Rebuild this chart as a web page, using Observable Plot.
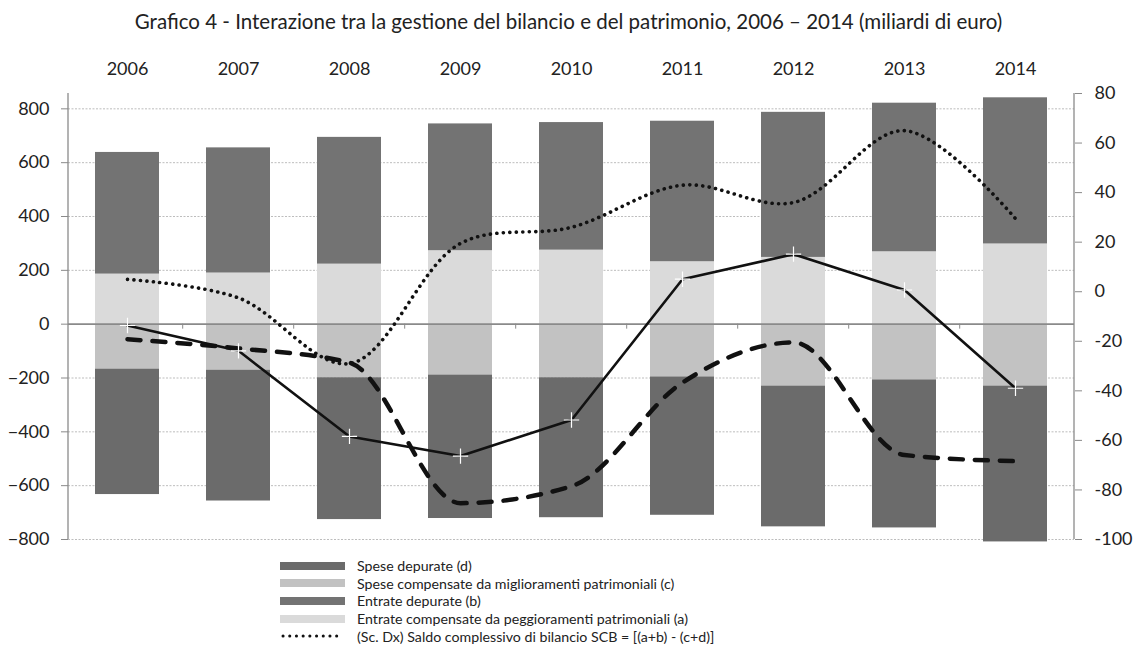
<!DOCTYPE html>
<html>
<head>
<meta charset="utf-8">
<script src="https://cdn.jsdelivr.net/npm/d3@7"></script>
<script src="https://cdn.jsdelivr.net/npm/@observablehq/plot@0.6"></script>
<style>
  body { margin: 0; background: #fff; font-family: Lato, "Open Sans", sans-serif; }
  #wrap { position: relative; width: 1137px; height: 651px; overflow: hidden; }
  #title { position: absolute; top: 9px; left: 0; width: 1137px; text-align: center; font-size: 20.5px; color: #222; }
  #chart { position: absolute; top: 40px; left: 0; }
  #legend { position: absolute; top: 557px; left: 280px; font-size: 14.2px; color: #222; }
  .row { display: flex; align-items: center; height: 17.6px; }
  .row svg { margin-right: 12px; }
</style>
</head>
<body>
<div id="wrap">
  <div id="title">Grafico 4 - Interazione tra la gestione del bilancio e del patrimonio, 2006 – 2014 (miliardi di euro)</div>
  <div id="chart"></div>
  <div id="legend"></div>
</div>
<script>
// ---- data (miliardi di euro) ----
const years = ["2006", "2007", "2008", "2009", "2010", "2011", "2012", "2013", "2014"];
const entrateComp = [186, 190, 223, 273, 275, 232, 248, 269, 298];   // (a)
const entrateDep  = [452, 465, 471, 471, 474, 522, 539, 552, 543];   // (b)
const speseComp   = [167, 171, 199, 189, 199, 196, 230, 207, 230];   // (c) plotted below zero
const speseDep    = [466, 486, 527, 533, 520, 514, 523, 550, 579];   // (d) plotted below zero
const saldoSCB    = [5, -2.5, -29, 19.5, 26, 43, 36, 65, 29.5];      // right scale
const lineaContinua    = [-5, -99, -417, -490, -356, 167, 260, 127, -238];
const lineaTratteggiata = [-56, -90, -143, -665, -602, -217, -68, -486, -509];
const leftTicks  = [800, 600, 400, 200, 0, -200, -400, -600, -800];
const rightTicks = [80, 60, 40, 20, 0, -20, -40, -60, -80, -100];

const seriesNames = [
  "Spese depurate (d)",
  "Spese compensate da miglioramenti patrimoniali (c)",
  "Entrate depurate (b)",
  "Entrate compensate da peggioramenti patrimoniali (a)"
];
const colors = {
  [seriesNames[0]]: "#6b6b6b",
  [seriesNames[1]]: "#c2c2c2",
  [seriesNames[2]]: "#737373",
  [seriesNames[3]]: "#dadada"
};

// ---- scales: left domain; right axis mapped onto left ----
const leftMin = -800, rightMin = -100, rightMax = 80;
const topValue = 857; // left value aligned with right 80
const toLeft = r => leftMin + (r - rightMin) * (topValue - leftMin) / (rightMax - rightMin);

const bars = [];
years.forEach((yr, i) => {
  bars.push({year: yr, s: seriesNames[3], y1: 0, y2: entrateComp[i]});
  bars.push({year: yr, s: seriesNames[2], y1: entrateComp[i], y2: entrateComp[i] + entrateDep[i]});
  bars.push({year: yr, s: seriesNames[1], y1: 0, y2: -speseComp[i]});
  bars.push({year: yr, s: seriesNames[0], y1: -speseComp[i], y2: -speseComp[i] - speseDep[i]});
});
const scb = years.map((yr, i) => ({year: yr, v: toLeft(saldoSCB[i])}));
const solid = years.map((yr, i) => ({year: yr, v: lineaContinua[i]}));
const dashed = years.map((yr, i) => ({year: yr, v: lineaTratteggiata[i]}));

const rightMapped = rightTicks.map(toLeft);
const rightLabel = new Map(rightMapped.map((v, i) => [v, String(rightTicks[i])]));

function frameLines(index, scales, values, dims) {
  const ns = "http://www.w3.org/2000/svg";
  const g = document.createElementNS(ns, "g");
  const L = dims.marginLeft, R = dims.width - dims.marginRight;
  const T = dims.marginTop, B = dims.height - dims.marginBottom;
  for (const x of [L, R]) {
    const l = document.createElementNS(ns, "line");
    l.setAttribute("x1", x); l.setAttribute("x2", x);
    l.setAttribute("y1", T); l.setAttribute("y2", B);
    l.setAttribute("stroke", "#8a8a8a"); l.setAttribute("stroke-width", 1.3);
    g.appendChild(l);
  }
  // category tick marks on the zero line
  const y0 = scales.y(0);
  const step = scales.x(years[1]) - scales.x(years[0]);
  for (let i = 0; i < years.length - 1; i++) {
    const xb = scales.x(years[i]) + step * (1 - 0.42) / 2 + step / 2;
    const l = document.createElementNS(ns, "line");
    l.setAttribute("x1", xb); l.setAttribute("x2", xb);
    l.setAttribute("y1", y0); l.setAttribute("y2", y0 + 5);
    l.setAttribute("stroke", "#8a8a8a");
    g.appendChild(l);
  }
  return g;
}

const chart = Plot.plot({
  width: 1137,
  height: 511,
  marginLeft: 68,
  marginRight: 63,
  marginTop: 53,
  marginBottom: 12,
  style: {fontFamily: "Lato, 'Open Sans', sans-serif", color: "#222", background: "transparent"},
  x: {type: "band", domain: years, paddingInner: 0.42, paddingOuter: 0.21, axis: null},
  y: {domain: [leftMin, topValue], axis: null},
  marks: [
    Plot.ruleY(leftTicks.filter(d => d !== 0), {stroke: "#bdbdbd", strokeDasharray: "2,1.5", strokeWidth: 1}),
    Plot.barY(bars, {x: "year", y1: "y1", y2: "y2", fill: d => colors[d.s]}),
    Plot.ruleY([0], {stroke: "#8a8a8a", strokeWidth: 1.6}),
    frameLines,
    Plot.axisX({anchor: "top", tickSize: 0, tickPadding: 19, fontSize: 18, label: null}),
    Plot.axisY(leftTicks, {anchor: "left", tickSize: 7, tickPadding: 12, fontSize: 18, stroke: "#8a8a8a", label: null}),
    Plot.axisY(rightMapped, {anchor: "right", tickSize: 7, tickPadding: 13, fontSize: 18, stroke: "#8a8a8a",
      label: null, tickFormat: d => rightLabel.get(d)}),
    Plot.line(dashed, {x: "year", y: "v", stroke: "#111", strokeWidth: 4.5, strokeDasharray: "13,12",
      strokeLinecap: "round", curve: "monotone-x"}),
    Plot.line(solid, {x: "year", y: "v", stroke: "#111", strokeWidth: 2.6}),
    Plot.dot(solid, {x: "year", y: "v", symbol: "plus", r: 5, stroke: "#fff", strokeWidth: 1.2}),
    Plot.line(scb, {x: "year", y: "v", stroke: "#111", strokeWidth: 3.6, strokeDasharray: "0.1,6.4",
      strokeLinecap: "round", curve: "catmull-rom"})
  ]
});
document.getElementById("chart").appendChild(chart);

// ---- legend ----
const legend = document.getElementById("legend");
const legendItems = [
  {label: seriesNames[0], type: "rect", color: colors[seriesNames[0]]},
  {label: seriesNames[1], type: "rect", color: colors[seriesNames[1]]},
  {label: seriesNames[2], type: "rect", color: colors[seriesNames[2]]},
  {label: seriesNames[3], type: "rect", color: colors[seriesNames[3]]},
  {label: "(Sc. Dx) Saldo complessivo di bilancio SCB = [(a+b) - (c+d)]", type: "dots"}
];
for (const it of legendItems) {
  const row = document.createElement("div");
  row.className = "row";
  const sw = it.type === "rect"
    ? `<svg width="65" height="10"><rect x="0" y="1" width="65" height="8" fill="${it.color}"/></svg>`
    : `<svg width="65" height="10"><line x1="3" x2="63" y1="5" y2="5" stroke="#111" stroke-width="3" stroke-linecap="round" stroke-dasharray="0.1,6.6"/></svg>`;
  row.innerHTML = sw + `<span>${it.label}</span>`;
  legend.appendChild(row);
}
</script>
</body>
</html>
